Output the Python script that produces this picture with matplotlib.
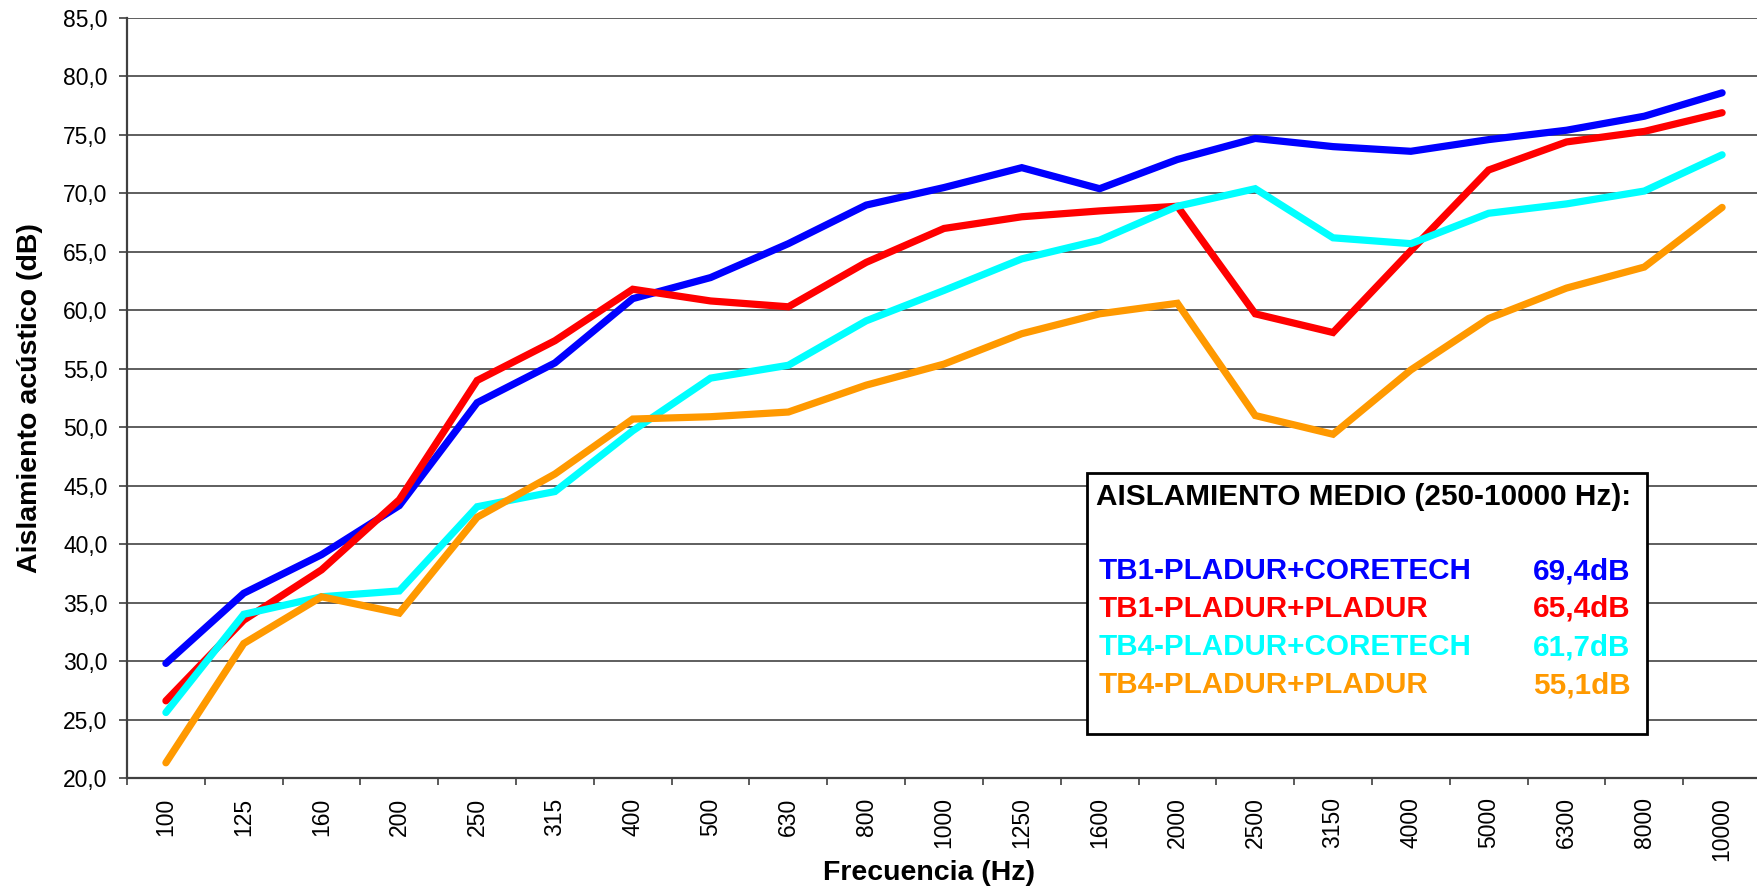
import numpy as np
import matplotlib.pyplot as plt
from matplotlib.patches import Rectangle

plt.rcParams['font.family'] = ['Liberation Sans', 'DejaVu Sans']

#frecuencias de tercio de octava
frecuencias = ['100', '125', '160', '200', '250', '315', '400', '500', '630', '800', '1000',
               '1250', '1600', '2000', '2500', '3150', '4000', '5000', '6300', '8000', '10000']

#aislamiento acustico (dB)
tb1_coretech = [29.8, 35.8, 39.1, 43.3, 52.1, 55.5, 61.0, 62.8, 65.7, 69.0, 70.5,
                72.2, 70.4, 72.9, 74.7, 74.0, 73.6, 74.6, 75.4, 76.6, 78.6]
tb1_pladur = [26.6, 33.5, 37.8, 43.8, 54.0, 57.4, 61.8, 60.8, 60.3, 64.1, 67.0,
              68.0, 68.5, 68.9, 59.7, 58.1, 65.1, 72.0, 74.4, 75.3, 76.9]
tb4_coretech = [25.6, 34.0, 35.5, 36.0, 43.2, 44.5, 49.7, 54.2, 55.3, 59.1, 61.7,
                64.4, 66.0, 68.9, 70.4, 66.2, 65.7, 68.3, 69.1, 70.2, 73.3]
tb4_pladur = [21.3, 31.5, 35.5, 34.1, 42.3, 46.0, 50.7, 50.9, 51.3, 53.6, 55.4,
              58.0, 59.7, 60.6, 51.0, 49.4, 54.9, 59.3, 61.9, 63.7, 68.8]

nombres = ['TB1-PLADUR+CORETECH', 'TB1-PLADUR+PLADUR', 'TB4-PLADUR+CORETECH', 'TB4-PLADUR+PLADUR']
medias = ['69,4dB', '65,4dB', '61,7dB', '55,1dB']
colores = ['#0000FF', '#FF0000', '#00FFFF', '#FF9900']
series = [tb1_coretech, tb1_pladur, tb4_coretech, tb4_pladur]

fig = plt.figure(figsize=(17.57, 8.9), dpi=100)
ax = fig.add_axes([127/1757, 112/890, 1634/1757, 760/890])

x = np.arange(len(frecuencias))
for datos, color in zip(series, colores):
    ax.plot(x, datos, color=color, lw=5.2, solid_capstyle='round', solid_joinstyle='miter', zorder=3)

#ejes estilo excel
ax.set_xlim(-0.5, len(frecuencias) - 0.5)
ax.set_ylim(20, 85)
yt = np.arange(20, 86, 5)
ax.set_yticks(yt)
ax.set_yticklabels([('%.1f' % v).replace('.', ',') for v in yt], fontsize=16.5)
ax.tick_params(axis='y', direction='out', length=6, width=1.2, color='#404040', pad=8)

ax.set_xticks(x)
ax.set_xticklabels(frecuencias, rotation=90, fontsize=16.5)
ax.tick_params(axis='x', which='major', length=0, pad=14)
ax.set_xticks(np.arange(-0.5, len(frecuencias)), minor=True)
ax.tick_params(axis='x', which='minor', direction='out', length=5, width=1.2, color='#404040')

ax.yaxis.grid(True, color='#333333', lw=1.1, zorder=1)
ax.set_axisbelow(True)
for lado in ['top', 'right']:
    ax.spines[lado].set_visible(False)
for lado in ['left', 'bottom']:
    ax.spines[lado].set_color('#404040')
    ax.spines[lado].set_linewidth(1.6)

ax.set_ylabel('Aislamiento acústico (dB)', fontsize=20.5, fontweight='bold')
ax.yaxis.set_label_coords(-0.0594, 0.5)
ax.yaxis.label.set_va('center')
ax.set_xlabel('Frecuencia (Hz)', fontsize=20.5, fontweight='bold')
ax.xaxis.set_label_coords(0.4906, -0.1342)
ax.xaxis.label.set_va('baseline')

#cuadro con el aislamiento medio
caja = Rectangle((0.5877, 0.0579), 0.930 - 0.5877, 0.4013 - 0.0579, transform=ax.transAxes,
                 facecolor='white', edgecolor='black', lw=2, zorder=5)
ax.add_patch(caja)
ax.text(0.5933, 0.3592, 'AISLAMIENTO MEDIO (250-10000 Hz):', transform=ax.transAxes,
        fontsize=21.4, fontweight='bold', va='baseline', ha='left', zorder=6)
ys = [0.2614, 0.2122, 0.1618, 0.1114]
for nombre, media, color, yy in zip(nombres, medias, colores, ys):
    ax.text(0.5945, yy, nombre, transform=ax.transAxes, color=color, fontsize=21.3,
            fontweight='bold', va='baseline', ha='left', zorder=6)
    ax.text(0.920, yy, media, transform=ax.transAxes, color=color, fontsize=21.3,
            fontweight='bold', va='baseline', ha='right', zorder=6)

fig.savefig('out.png', dpi=100)
